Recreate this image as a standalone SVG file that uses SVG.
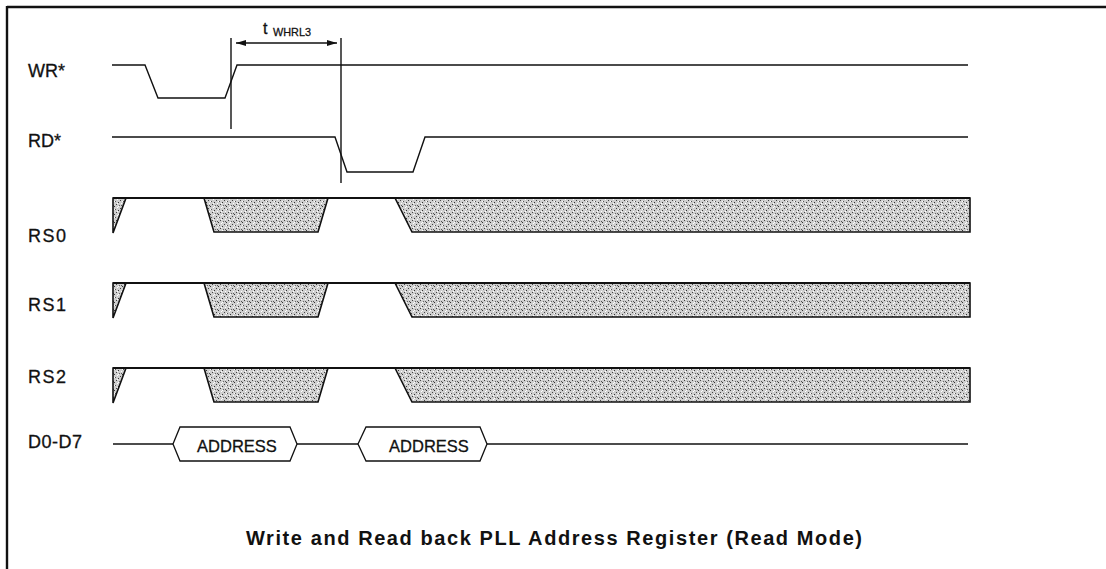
<svg xmlns="http://www.w3.org/2000/svg" width="1106" height="569" viewBox="0 0 1106 569">
<style>
.sig{fill:none;stroke:#111;stroke-width:1.4}
.bus{fill:url(#stip);stroke:#111;stroke-width:1.6;stroke-linejoin:miter}
.top{stroke:#111;stroke-width:2.2}
.lbl{font-family:"Liberation Sans",Arial,sans-serif;font-size:18px;fill:#111;stroke:#111;stroke-width:0.3}
.frame{stroke:#111;stroke-width:2.4}
.box{fill:#fff;stroke:#111;stroke-width:1.3}
</style>
<defs>
<pattern id="stip" width="8" height="8" patternUnits="userSpaceOnUse">
<rect width="8" height="8" fill="#cfcfcf"/>
<rect x="0" y="0" width="1" height="1" fill="#444"/>
<rect x="3" y="1" width="1" height="1" fill="#555"/>
<rect x="6" y="2" width="1" height="1" fill="#333"/>
<rect x="1" y="3" width="1" height="1" fill="#fff"/>
<rect x="4" y="4" width="1" height="1" fill="#444"/>
<rect x="7" y="5" width="1" height="1" fill="#666"/>
<rect x="2" y="6" width="1" height="1" fill="#333"/>
<rect x="5" y="7" width="1" height="1" fill="#fff"/>
<rect x="5" y="3" width="1" height="1" fill="#fff"/>
<rect x="1" y="5" width="1" height="1" fill="#555"/>
<rect x="6" y="6" width="1" height="1" fill="#fff"/>
<rect x="2" y="1" width="1" height="1" fill="#fff"/>
</pattern>
<marker id="ah" viewBox="0 0 10 6" refX="10" refY="3" markerWidth="10" markerHeight="6" markerUnits="userSpaceOnUse" orient="auto-start-reverse">
<path d="M0,0 L10,3 L0,6 Z" fill="#111"/>
</marker>
</defs>

<g id="frame">
<line class="frame" x1="7" y1="7" x2="1106" y2="7"/>
<line class="frame" x1="7" y1="6" x2="7" y2="569"/>
</g>

<g id="labels">
<text class="lbl" x="28" y="77">WR*</text>
<text class="lbl" x="28" y="147">RD*</text>
<text class="lbl" x="28" y="242" textLength="38" lengthAdjust="spacing">RS0</text>
<text class="lbl" x="28" y="311" textLength="38" lengthAdjust="spacing">RS1</text>
<text class="lbl" x="28" y="383" textLength="38" lengthAdjust="spacing">RS2</text>
<text class="lbl" x="28" y="448" textLength="54" lengthAdjust="spacing">D0-D7</text>
</g>

<g id="wr">
<polyline class="sig" points="112,65 145,65 158,98 225,98 237,65 968,65"/>
</g>

<g id="rd">
<polyline class="sig" points="112,137 335,137 347,172 413,172 425,137 968,137"/>
</g>

<g id="rs0">
<polygon class="bus" points="113,198 126,198 113,233"/>
<polygon class="bus" points="204,198 214,232 318,232 328,198"/>
<polygon class="bus" points="395,198 412,232 970,232 970,198"/>
<line class="top" x1="113" y1="198" x2="970" y2="198"/>
</g>

<g id="rs1">
<polygon class="bus" points="113,283 126,283 113,318"/>
<polygon class="bus" points="204,283 214,317 318,317 328,283"/>
<polygon class="bus" points="395,283 412,317 970,317 970,283"/>
<line class="top" x1="113" y1="283" x2="970" y2="283"/>
</g>

<g id="rs2">
<polygon class="bus" points="113,368 126,368 113,403"/>
<polygon class="bus" points="204,368 214,402 318,402 328,368"/>
<polygon class="bus" points="395,368 412,402 970,402 970,368"/>
<line class="top" x1="113" y1="368" x2="970" y2="368"/>
</g>

<g id="d0d7">
<line class="sig" x1="113" y1="444" x2="173" y2="444"/>
<line class="sig" x1="297" y1="444" x2="358" y2="444"/>
<line class="sig" x1="487" y1="444" x2="968" y2="444"/>
<polygon class="box" points="173,444 180,427 290,427 297,444 290,461 180,461"/>
<polygon class="box" points="358,444 366,427 480,427 487,444 480,461 366,461"/>
<text class="lbl" x="237" y="452" text-anchor="middle" style="font-size:16.5px">ADDRESS</text>
<text class="lbl" x="429" y="452" text-anchor="middle" style="font-size:16.5px">ADDRESS</text>
</g>

<g id="connectors">
<line class="sig" x1="231" y1="38" x2="231" y2="129"/>
<line class="sig" x1="341" y1="38" x2="341" y2="183"/>
<line class="sig" x1="236" y1="43" x2="337" y2="43" marker-start="url(#ah)" marker-end="url(#ah)"/>
</g>

<g id="timing-label">
<text x="263" y="34" font-family="Liberation Sans,Arial,sans-serif" font-size="16" fill="#111" stroke="#111" stroke-width="0.3">t</text>
<text x="273" y="36" font-family="Liberation Sans,Arial,sans-serif" font-size="11.5" fill="#111" stroke="#111" stroke-width="0.3" textLength="38" lengthAdjust="spacingAndGlyphs">WHRL3</text>
</g>

<g id="title">
<text x="246" y="545" font-family="Liberation Sans,Arial,sans-serif" font-size="20" font-weight="bold" fill="#111" textLength="616" lengthAdjust="spacing">Write and Read back PLL Address Register (Read Mode)</text>
</g>
</svg>
